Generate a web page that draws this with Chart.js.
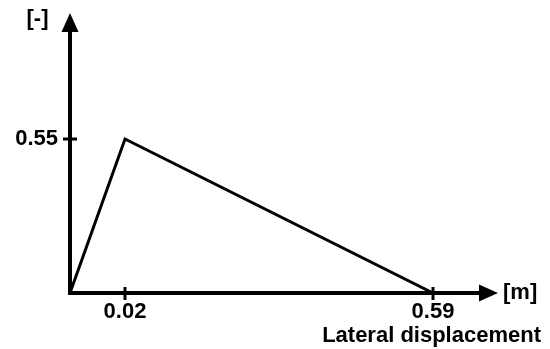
<!DOCTYPE html>
<html>
<head>
<meta charset="utf-8">
<script src="https://cdn.jsdelivr.net/npm/chart.js@4/dist/chart.umd.min.js"></script>
<style>
  html, body { margin: 0; padding: 0; background: #fff; }
  #wrap { width: 550px; height: 349px; }
</style>
</head>
<body>
<div id="wrap"><canvas id="grafica"></canvas></div>
<script>
// datos de la curva (desplazamiento lateral vs. factor)
const desplazamiento = [0, 0.02, 0.59]
const factor = [0, 0.55, 0]
// ticks que se muestran en los ejes
const ticksX = [0.02, 0.59]
const ticksY = [0.55]
const etiquetaX = 'Lateral displacement'
const unidadX = '[m]'
const unidadY = '[-]'

// el dibujo no está a escala: el eje x se estira por tramos entre los ticks
const tramosValor = [0, 0.02, 0.59, 0.7]
const tramosFraccion = [0, 55 / 428, 363 / 428, 1]

class EscalaTramos extends Chart.LinearScale {
  getPixelForValue(value) {
    let dec = 0
    for (let i = 0; i < tramosValor.length - 1; i++) {
      const a = tramosValor[i], b = tramosValor[i + 1]
      if (value <= b || i === tramosValor.length - 2) {
        const t = (value - a) / (b - a)
        dec = tramosFraccion[i] + t * (tramosFraccion[i + 1] - tramosFraccion[i])
        break
      }
    }
    return this.getPixelForDecimal(dec)
  }
}
EscalaTramos.id = 'tramos'
EscalaTramos.defaults = Chart.LinearScale.defaults
Chart.register(EscalaTramos)

const fuente = 'bold 22px "Liberation Sans", Arial, sans-serif'

// plugin para ejes con flecha, ticks y textos
const ejes = {
  id: 'ejes',
  afterDatasetsDraw(chart) {
    const ctx = chart.ctx
    const x = chart.scales.x, y = chart.scales.y
    const x0 = x.getPixelForValue(0), y0 = y.getPixelForValue(0)
    const area = chart.chartArea
    ctx.save()
    ctx.strokeStyle = '#000'
    ctx.fillStyle = '#000'
    ctx.lineWidth = 4
    ctx.lineCap = 'butt'
    // eje x
    ctx.beginPath()
    ctx.moveTo(x0 - 2, y0)
    ctx.lineTo(area.right - 16, y0)
    ctx.stroke()
    ctx.beginPath()
    ctx.moveTo(area.right, y0)
    ctx.lineTo(area.right - 19, y0 - 8.5)
    ctx.lineTo(area.right - 19, y0 + 8.5)
    ctx.closePath()
    ctx.fill()
    // eje y
    ctx.beginPath()
    ctx.moveTo(x0, y0 + 2)
    ctx.lineTo(x0, area.top + 16)
    ctx.stroke()
    ctx.beginPath()
    ctx.moveTo(x0, area.top)
    ctx.lineTo(x0 - 8.5, area.top + 19)
    ctx.lineTo(x0 + 8.5, area.top + 19)
    ctx.closePath()
    ctx.fill()
    // ticks
    ctx.lineWidth = 3
    ctx.font = fuente
    ctx.textAlign = 'center'
    ctx.textBaseline = 'middle'
    ticksX.forEach(v => {
      const px = x.getPixelForValue(v)
      ctx.beginPath()
      ctx.moveTo(px, y0 - 6)
      ctx.lineTo(px, y0 + 7)
      ctx.stroke()
      ctx.fillText(v.toFixed(2), px, y0 + 19)
    })
    ctx.textAlign = 'right'
    ticksY.forEach(v => {
      const py = y.getPixelForValue(v)
      ctx.beginPath()
      ctx.moveTo(x0 - 7, py)
      ctx.lineTo(x0 + 7, py)
      ctx.stroke()
      ctx.fillText(v.toFixed(2), x0 - 12, py)
    })
    // unidades y titulo
    ctx.textAlign = 'left'
    ctx.fillText(unidadX, area.right + 5, y0)
    ctx.textAlign = 'center'
    ctx.fillText(unidadY, 37.5, 19)
    ctx.textAlign = 'right'
    ctx.fillText(etiquetaX, 541, 336)
    ctx.restore()
  }
}

new Chart(document.querySelector('#grafica'), {
  type: 'line',
  data: {
    datasets: [{
      data: desplazamiento.map((d, i) => ({ x: d, y: factor[i] })),
      borderColor: '#000',
      borderWidth: 3,
      pointRadius: 0,
      tension: 0,
      fill: false
    }]
  },
  options: {
    responsive: true,
    maintainAspectRatio: false,
    animation: false,
    layout: { padding: { left: 70, right: 52, top: 13, bottom: 56 } },
    plugins: { legend: { display: false }, tooltip: { enabled: false } },
    scales: {
      x: { type: 'tramos', min: 0, max: 0.7, display: false },
      y: { type: 'linear', min: 0, max: 1, display: false }
    }
  },
  plugins: [ejes]
})
</script>
</body>
</html>
